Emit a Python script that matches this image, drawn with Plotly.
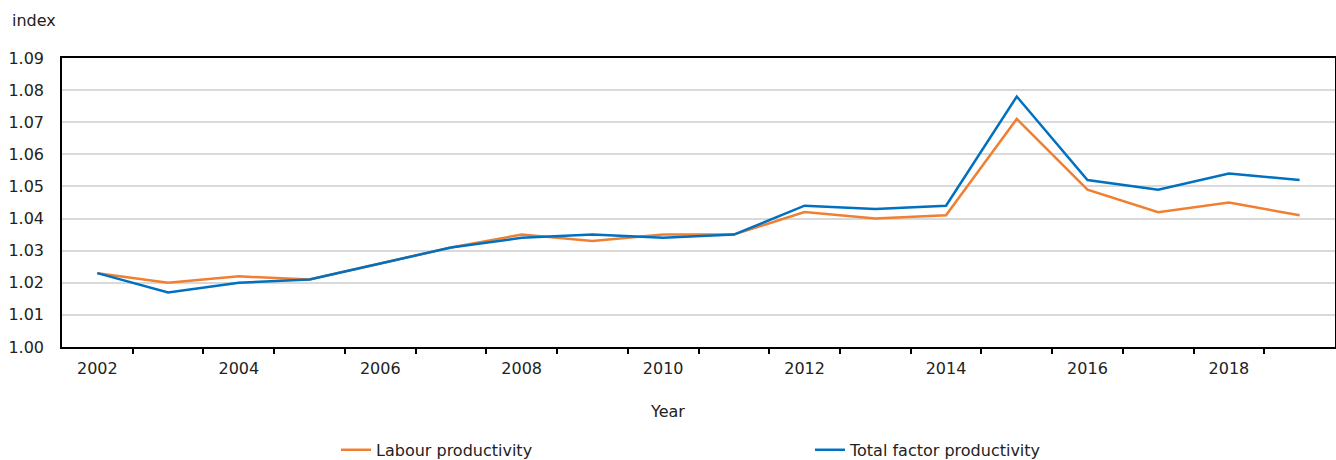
import plotly.graph_objects as go

years = list(range(2002, 2020))
labour = [1.023, 1.020, 1.022, 1.021, 1.026, 1.031, 1.035, 1.033, 1.035, 1.035,
          1.042, 1.040, 1.041, 1.071, 1.049, 1.042, 1.045, 1.041]
tfp = [1.023, 1.017, 1.020, 1.021, 1.026, 1.031, 1.034, 1.035, 1.034, 1.035,
       1.044, 1.043, 1.044, 1.078, 1.052, 1.049, 1.054, 1.052]
label_years = [y for y in years if y % 2 == 0]
boundaries = [y + 0.5 for y in years[:-1]]

font = dict(family="DejaVu Sans, Verdana, sans-serif", size=16, color="#222222")

fig = go.Figure()
fig.add_trace(go.Scatter(x=years, y=labour, mode="lines", name="Labour productivity",
                         line=dict(color="#F07F32", width=2.5)))
fig.add_trace(go.Scatter(x=years, y=tfp, mode="lines", name="Total factor productivity",
                         line=dict(color="#0070C0", width=2.5)))

fig.update_layout(
    width=1336, height=460,
    margin=dict(l=62, r=1, t=58, b=113, autoexpand=False),
    paper_bgcolor="white", plot_bgcolor="white",
    font=font,
    showlegend=True,
    legend=dict(orientation="h", xref="container", yref="container",
                x=0.2515, xanchor="left", y=0.022, yanchor="middle",
                entrywidth=429, entrywidthmode="pixels", font=font),
    xaxis=dict(
        range=[years[0] - 0.5, years[-1] + 0.5],
        tickmode="array", tickvals=label_years, ticktext=[str(y) for y in label_years],
        ticks="", showgrid=False, zeroline=False, automargin=False,
        showline=True, linecolor="black", linewidth=2, mirror=True,
        minor=dict(tickmode="array", tickvals=boundaries, ticks="outside",
                   ticklen=5, tickcolor="black", tickwidth=1.5, showgrid=False),
        ticklabelstandoff=6,
    ),
    yaxis=dict(
        range=[1.00, 1.09], dtick=0.01, tick0=1.0, tickformat=".2f",
        showgrid=True, gridcolor="#d9d9d9", gridwidth=1.5, zeroline=False,
        showline=True, linecolor="black", linewidth=1.5, mirror=True,
        ticks="", ticklabelstandoff=13, automargin=False,
    ),
    annotations=[
        dict(text="index", xref="paper", yref="paper", x=0, y=1,
             xanchor="left", yanchor="middle", xshift=-52, yshift=38,
             showarrow=False, font=font),
        dict(text="Year", xref="paper", yref="paper", x=0.4753, y=-0.2215,
             xanchor="center", yanchor="middle", showarrow=False, font=font),
    ],
)

fig.write_html("out.html")
